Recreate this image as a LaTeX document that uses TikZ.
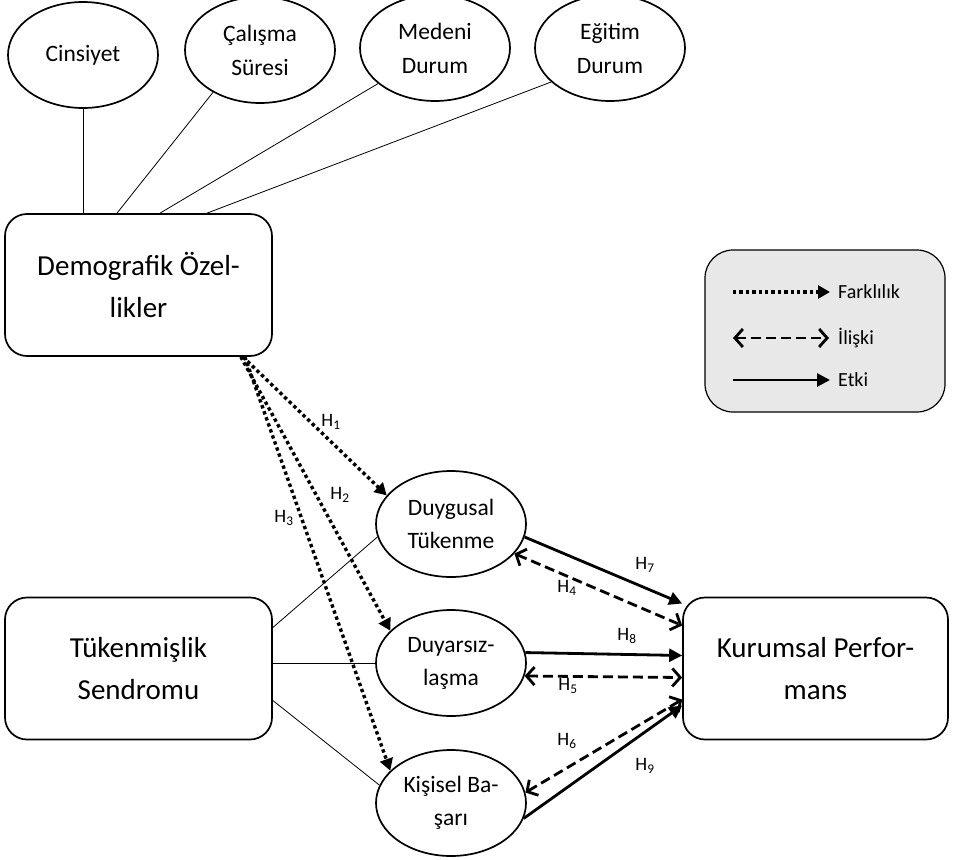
\documentclass[tikz,border=0pt]{standalone}
\usepackage{fontspec}
\setmainfont{Carlito}
\usetikzlibrary{arrows.meta,shapes.geometric}
\begin{document}
\begin{tikzpicture}[x=1pt,y=-1pt,
  ell/.style={draw,line width=1.7pt,ellipse,minimum width=150pt,minimum height=106pt,inner sep=0pt,align=center,font=\fontsize{23.5}{34}\selectfont},
  sell/.style={draw,line width=1.7pt,ellipse,minimum width=150pt,minimum height=106pt,inner sep=0pt,align=center,font=\fontsize{23.5}{33}\selectfont},
  bigbox/.style={draw,line width=1.7pt,rounded corners=22pt,minimum width=267pt,minimum height=142pt,align=center,font=\fontsize{29}{42}\selectfont},
  thin/.style={line width=0.8pt},
  farkl/.style={line width=3.4pt,dash pattern=on 3.4pt off 3pt,-{Triangle[length=12pt,width=13pt]}},
  iliski/.style={line width=2.8pt,dash pattern=on 10pt off 5pt,{Straight Barb[length=8pt,width=18pt]}-{Straight Barb[length=8pt,width=18pt]}},
  etki/.style={line width=2.8pt,-{Triangle[length=13pt,width=13pt]}},
  lbl/.style={font=\fontsize{19}{22}\selectfont,inner sep=0pt},
  legtxt/.style={font=\fontsize{20}{24}\selectfont,anchor=west,inner sep=0pt}]
\useasboundingbox (0,0) rectangle (955,859);
% top ellipses
\node[ell] (c1) at (83,55) {Cinsiyet};
\node[ell] (c2) at (260,50) {Çalışma\\Süresi};
\node[ell] (c3) at (435,48) {Medeni\\Durum};
\node[ell] (c4) at (610,48) {Eğitim\\Durum};
% boxes
\node[bigbox] (dm) at (138.5,285) {Demografik Özel-\\likler};
\node[bigbox] (tk) at (138.5,668.5) {Tükenmişlik\\Sendromu};
\node[bigbox,minimum width=265pt] (kp) at (815.5,668.5) {Kurumsal Perfor-\\mans};
% small ellipses
\node[sell] (dt) at (451,524) {Duygusal\\Tükenme};
\node[sell] (ds) at (451,663) {Duyarsız-\\laşma};
\node[sell] (ks) at (451,803) {Kişisel Ba-\\şarı};
% legend
\node[draw,line width=1.2pt,fill=black!9,rounded corners=28pt,minimum width=240pt,minimum height=162pt] (lg) at (825,331) {};
\coordinate (la1) at (733,292); \coordinate (lb1) at (830,292);
\coordinate (la2) at (733,338); \coordinate (lb2) at (829,338);
\coordinate (la3) at (733,380); \coordinate (lb3) at (830,380);
\draw[farkl] (la1) -- (lb1);
\draw[iliski] (la2) -- (lb2);
\draw[etki] (la3) -- (lb3);
\node[legtxt] (t1) at (838,292) {Farklılık};
\node[legtxt] (t2) at (838,338) {İlişki};
\node[legtxt] (t3) at (838,380) {Etki};
% top connectors
\draw[thin] (c1.south) -- (c1.south |- dm.north);
\draw[thin] (c2.222) -- ([xshift=-21.5pt]dm.north);
\draw[thin] (c3.212) -- ([xshift=21.5pt]dm.north);
\draw[thin] (c4.210) -- ([xshift=68.5pt]dm.north);
% Tukenmislik connectors
\draw[thin] ([yshift=41pt]tk.east) -- (dt.190);
\draw[thin] (tk.east |- ds.west) -- (ds.west);
\draw[thin] ([yshift=-32pt]tk.east) -- (ks.166);
% dotted from demografik
\draw[farkl] ([xshift=-30pt]dm.south east) -- (dt.156);
\draw[farkl] ([xshift=-32pt]dm.south east) -- (ds.152);
\draw[farkl] ([xshift=-28pt]dm.south east) -- (ks.152);
\node[lbl] (h1) at (331,422) {H\textsubscript{1}};
\node[lbl] (h2) at (340,495) {H\textsubscript{2}};
\node[lbl] (h3) at (284,518) {H\textsubscript{3}};
% right side
\draw[etki] (dt.-10) -- ([yshift=65pt]kp.west);
\draw[iliski] (dt.-25) -- ([yshift=43pt]kp.west);
\draw[etki] (ds.8) -- ([yshift=13pt]kp.west);
\draw[iliski] (ds.-10) -- ([yshift=-9pt]kp.west);
\draw[iliski] (ks.8) -- ([yshift=-31pt]kp.west);
\draw[etki] (ks.-12) -- ([yshift=-37pt]kp.west);
\node[lbl] (h7) at (645,565) {H\textsubscript{7}};
\node[lbl] (h4) at (567,588) {H\textsubscript{4}};
\node[lbl] (h8) at (627,636) {H\textsubscript{8}};
\node[lbl] (h5) at (568,686) {H\textsubscript{5}};
\node[lbl] (h6) at (567,741) {H\textsubscript{6}};
\node[lbl] (h9) at (645,766) {H\textsubscript{9}};
\end{tikzpicture}
\end{document}
